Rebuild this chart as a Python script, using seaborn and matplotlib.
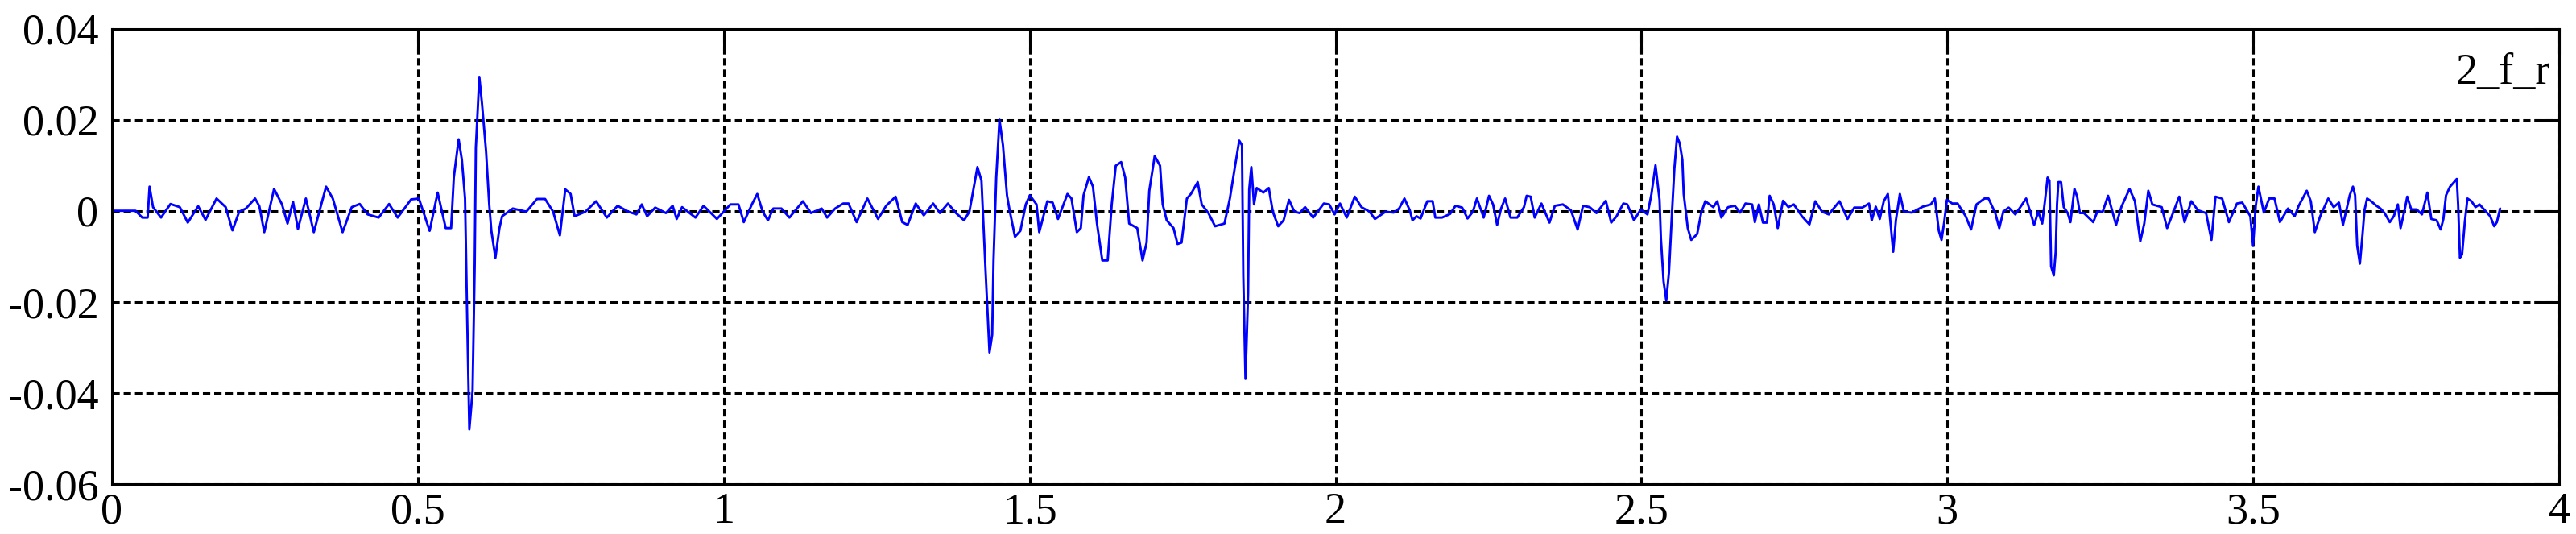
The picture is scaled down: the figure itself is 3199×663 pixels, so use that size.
import numpy as np
import pandas as pd
import matplotlib
matplotlib.use("Agg")
import matplotlib.pyplot as plt
import seaborn as sns

# ---------------- data ----------------
seg1_t = [0, 0.0386, 0.0496, 0.0584, 0.0615, 0.0672, 0.0803, 0.0957, 0.111, 0.124,
          0.141, 0.153, 0.171, 0.186, 0.197, 0.208, 0.219, 0.234, 0.241, 0.249,
          0.265, 0.278, 0.287, 0.296, 0.304, 0.317, 0.330, 0.350, 0.361, 0.377,
          0.392, 0.405, 0.418, 0.436, 0.453, 0.467, 0.489]
seg1_y = [0, 0, -0.0015, -0.0015, 0.0053, 0.0008, -0.0015, 0.0015, 0.0008, -0.0026,
          0.001, -0.002, 0.0027, 0.0008, -0.0043, -0.0002, 0.0005, 0.0027, 0.001, -0.0047,
          0.0048, 0.0014, -0.0028, 0.002, -0.004, 0.0027, -0.0047, 0.0053, 0.0027, -0.0047,
          0.0008, 0.0015, -0.0008, -0.0015, 0.0015, -0.0015, 0.0025]

seg2_t = [0.5017, 0.5193, 0.5324, 0.5456, 0.5544, 0.5588, 0.5667, 0.5720, 0.5772, 0.5807,
          0.5842, 0.5895, 0.5930, 0.5948, 0.6005, 0.6049, 0.6115, 0.6167, 0.6202, 0.6268,
          0.6334, 0.6378, 0.6553, 0.6773, 0.6948, 0.7080, 0.7212, 0.7322, 0.7410, 0.7497,
          0.7563, 0.7739, 0.7914, 0.8090, 0.8265, 0.8441, 0.8573, 0.8660, 0.8748, 0.8880,
          0.9055, 0.9165, 0.9231, 0.9319, 0.9538, 0.9670, 0.9889, 1.0109, 1.0241]
seg2_y = [0.0027, -0.0044, 0.004, -0.0038, -0.0038, 0.0073, 0.0157, 0.0112, 0.0027, -0.0239,
          -0.048, -0.0395, -0.0116, 0.0138, 0.0294, 0.0235, 0.0131, 0.0014, -0.0044, -0.0103,
          -0.0038, -0.0012, 0.0005, -0.0002, 0.0026, 0.0026, -0.0002, -0.0054, 0.0047, 0.0037,
          -0.0012, -0.0002, 0.0021, -0.0015, 0.0011, -0.0002, -0.0008, 0.0014, -0.0012, 0.0007,
          -0.0005, 0.0011, -0.0018, 0.0008, -0.0015, 0.0011, -0.0018, 0.0014, 0.0014]

seg3_t = [1.0328, 1.0460, 1.0548, 1.0636, 1.0723, 1.0811, 1.0943, 1.1074, 1.1294, 1.1426,
          1.1601, 1.1689, 1.1821, 1.1953, 1.2040, 1.2172, 1.2348, 1.2523, 1.2655, 1.2809,
          1.2918, 1.3006, 1.3138, 1.3270, 1.3423, 1.3533, 1.3665, 1.3796, 1.3928, 1.4015,
          1.4060, 1.4147, 1.4213, 1.4279, 1.4344, 1.4388, 1.4410, 1.4454, 1.4507, 1.4564,
          1.4630, 1.4673, 1.4761, 1.4849, 1.4937, 1.5003, 1.5113, 1.5157, 1.5289, 1.5376,
          1.5464]
seg3_y = [-0.0025, 0.0014, 0.0037, -0.0002, -0.0021, 0.0005, 0.0005, -0.0015, 0.0021, -0.0005,
          0.0005, -0.0015, 0.0005, 0.0016, 0.0016, -0.0025, 0.0027, -0.0018, 0.0011, 0.0031,
          -0.0025, -0.0031, 0.0016, -0.001, 0.0016, -0.0005, 0.0016, -0.0005, -0.0021, -0.0002,
          0.0031, 0.0096, 0.0066, -0.0129, -0.0311, -0.0272, -0.0109, 0.0073, 0.02, 0.0144,
          0.0034, 0.0001, -0.0057, -0.0044, 0.0014, 0.0034, 0.0014, -0.0047, 0.0021, 0.0018,
          -0.0018]

seg4_t = [1.5618, 1.5684, 1.5772, 1.5837, 1.5881, 1.5969, 1.6035, 1.6101, 1.6188, 1.6276,
          1.6342, 1.6408, 1.6496, 1.6562, 1.6627, 1.6759, 1.6846, 1.6912, 1.6956, 1.7044,
          1.7132, 1.7175, 1.7241, 1.7352, 1.7418, 1.7483, 1.7570, 1.7636, 1.7747, 1.7813,
          1.7922, 1.8031, 1.8185, 1.8273, 1.8360, 1.8426, 1.8471, 1.8492, 1.8528, 1.8571,
          1.8589, 1.8624, 1.8668, 1.8712, 1.8821, 1.8909, 1.8975, 1.9063, 1.9151, 1.9239,
          1.9327, 1.9414, 1.9502, 1.9634, 1.9809, 1.9897, 1.9985, 2.0073, 2.0183, 2.0315,
          2.0424, 2.0556, 2.0644]
seg4_y = [0.0037, 0.0027, -0.0047, -0.0038, 0.0034, 0.0074, 0.0053, -0.0028, -0.0109, -0.0109,
          0.0014, 0.0099, 0.0107, 0.0073, -0.0028, -0.0038, -0.0109, -0.007, 0.0044, 0.012,
          0.0099, 0.0014, -0.0021, -0.0038, -0.0073, -0.007, 0.0027, 0.0037, 0.0063, 0.0014,
          -0.0005, -0.0034, -0.0028, 0.0027, 0.01, 0.0154, 0.0144, -0.0142, -0.0369, -0.0181,
          0.0047, 0.0096, 0.0014, 0.005, 0.004, 0.005, -0.0002, -0.0034, -0.0021, 0.0024,
          -0.0002, -0.0005, 0.0008, -0.0015, 0.0016, 0.0014, -0.0008, 0.0016, -0.0015, 0.0031,
          0.0008, -0.0002, -0.0018]

seg5_t = [2.0819, 2.0951, 2.1039, 2.1126, 2.1214, 2.1258, 2.1324, 2.1390, 2.1500, 2.1587,
          2.1631, 2.1741, 2.1873, 2.1961, 2.2070, 2.2158, 2.2245, 2.2311, 2.2422, 2.2509,
          2.2575, 2.2641, 2.2706, 2.2772, 2.2860, 2.2970, 2.3080, 2.3124, 2.3190, 2.3255,
          2.3365, 2.3497, 2.3585, 2.3716, 2.3848, 2.3957, 2.4045, 2.4154, 2.4265, 2.4418,
          2.4506, 2.4594, 2.4704, 2.4769, 2.4879, 2.4989, 2.5099, 2.5164, 2.5230, 2.5296,
          2.5318, 2.5362, 2.5406, 2.5450, 2.5494, 2.5538, 2.5582, 2.5626, 2.5669, 2.5691,
          2.5757, 2.5814, 2.5911, 2.5977, 2.6043]
seg5_y = [-0.0002, -0.0004, 0.0005, 0.0027, 0.0001, -0.0021, -0.0012, -0.0017, 0.0021, 0.0021,
          -0.0015, -0.0015, -0.0007, 0.0011, 0.0007, -0.0017, -0.0002, 0.0027, -0.0015, 0.0033,
          0.0014, -0.0031, 0.0005, 0.0027, -0.0015, -0.0015, 0.0008, 0.0033, 0.0031, -0.0015,
          0.0016, -0.0026, 0.0011, 0.0014, 0.0001, -0.0041, 0.0011, 0.0008, -0.0005, 0.0022,
          -0.0026, -0.0012, 0.0016, 0.0014, -0.0021, 0.0003, -0.0008, 0.0037, 0.01, 0.0024,
          -0.006, -0.0155, -0.0197, -0.0135, -0.0018, 0.0092, 0.0163, 0.0148, 0.0112, 0.0037,
          -0.0038, -0.0064, -0.0051, -0.0005, 0.0021]

seg6_t = [2.6175, 2.6240, 2.6306, 2.6416, 2.6525, 2.6613, 2.6701, 2.6810, 2.6854, 2.6920,
          2.6986, 2.7052, 2.7096, 2.7162, 2.7228, 2.7315, 2.7403, 2.7491, 2.7623, 2.7746,
          2.7842, 2.7952, 2.8062, 2.8237, 2.8369, 2.8479, 2.8611, 2.8720, 2.8764, 2.8830,
          2.8895, 2.8961, 2.9027, 2.9115, 2.9159, 2.9224, 2.9290, 2.9422, 2.9598, 2.9730,
          2.9796, 2.9861, 2.9905, 2.9949, 2.9993, 3.0080, 3.0168, 3.0300, 3.0388, 3.0476,
          3.0607, 3.0673, 3.0783, 3.0849, 3.0915, 3.1002, 3.1112, 3.1222, 3.1288]
seg6_y = [0.0008, 0.0021, -0.0015, 0.0008, 0.0011, -0.0004, 0.0016, 0.0014, -0.0025, 0.0014,
          -0.0026, -0.0026, 0.0033, 0.0014, -0.0038, 0.0022, 0.0008, 0.0014, -0.0012, -0.003,
          0.0021, -0.0002, -0.0008, 0.0021, -0.0018, 0.0007, 0.0007, 0.0016, -0.0021, 0.0009,
          -0.0018, 0.0021, 0.0037, -0.009, -0.0021, 0.0037, -0.0002, -0.0004, 0.0009, 0.0014,
          0.0027, -0.0044, -0.0064, -0.0025, 0.0024, 0.0016, 0.0016, -0.0012, -0.0041, 0.0014,
          0.0027, 0.0027, -0.0005, -0.0038, -0.0002, 0.0007, -0.0008, 0.0014, 0.0027]

seg7_t = [3.1354, 3.1419, 3.1485, 3.1551, 3.1595, 3.1639, 3.1669, 3.1696, 3.1740, 3.1771,
          3.1793, 3.1815, 3.1859, 3.1903, 3.1968, 3.2012, 3.2078, 3.2122, 3.2166, 3.2232,
          3.2385, 3.2451, 3.2539, 3.2627, 3.2692, 3.2758, 3.2846, 3.2978, 3.3066, 3.3154,
          3.3219, 3.3285, 3.3351, 3.3504, 3.3592, 3.3680, 3.3790, 3.3878, 3.3987, 3.4097,
          3.4229, 3.4317, 3.4383, 3.4492, 3.4602, 3.4734, 3.4821, 3.4953, 3.4997, 3.5041,
          3.5085, 3.5173, 3.5261, 3.5348, 3.5436, 3.5568, 3.5677, 3.5743, 3.5875, 3.5941,
          3.6007, 3.6095, 3.6226, 3.6314, 3.6401]
seg7_y = [-0.0002, -0.0031, -0.0002, -0.0028, 0.0021, 0.0073, 0.0066, -0.0122, -0.0142, -0.009,
          0.0014, 0.0063, 0.0063, 0.0008, -0.0005, -0.0025, 0.0048, 0.0031, -0.0005, -0.0005,
          -0.0025, -0.0002, -0.0002, 0.0033, 0.0001, -0.0031, 0.0009, 0.0048, 0.0021, -0.0067,
          -0.0028, 0.0044, 0.0014, 0.0008, -0.0038, -0.0008, 0.0031, -0.0025, 0.0021, 0.0001,
          -0.0005, -0.0064, 0.0031, 0.0027, -0.0025, 0.0016, 0.0018, -0.0012, -0.0077, 0.0011,
          0.0053, -0.0004, 0.0027, 0.0027, -0.0025, 0.0005, -0.0012, 0.0011, 0.0044, 0.0021,
          -0.0047, -0.0012, 0.0027, 0.0008, 0.0018]

seg8_t = [3.6467, 3.6533, 3.6577, 3.6630, 3.6665, 3.6699, 3.6743, 3.6787, 3.6818, 3.6861,
          3.6927, 3.7014, 3.7080, 3.7146, 3.7232, 3.7298, 3.7364, 3.7408, 3.7473, 3.7517,
          3.7582, 3.7671, 3.7758, 3.7846, 3.7911, 3.7998, 3.8064, 3.8108, 3.8151, 3.8217,
          3.8283, 3.8327, 3.8349, 3.8379, 3.8413, 3.8458, 3.8501, 3.8567, 3.8633, 3.8698,
          3.8786, 3.8873, 3.8939, 3.8982, 3.9035]
seg8_y = [-0.0031, 0.0008, 0.0034, 0.0053, 0.0034, -0.0077, -0.0116, -0.0051, 0.0001, 0.0027,
          0.0021, 0.0011, 0.0005, -0.0005, -0.0025, -0.0012, 0.0014, -0.0038, 0.0001, 0.0031,
          0.0003, 0.0003, -0.0008, 0.004, -0.0018, -0.0021, -0.0041, -0.0018, 0.0034, 0.0053,
          0.0063, 0.007, 0.0014, -0.0103, -0.0096, -0.0025, 0.0027, 0.0021, 0.0008, 0.0014,
          0.0001, -0.0012, -0.0034, -0.0025, 0.0005]

x_ticks = [0, 0.5, 1, 1.5, 2, 2.5, 3, 3.5, 4]
x_tick_labels = ["0", "0.5", "1", "1.5", "2", "2.5", "3", "3.5", "4"]
y_ticks = [-0.06, -0.04, -0.02, 0, 0.02, 0.04]
y_tick_labels = ["-0.06", "-0.04", "-0.02", "0", "0.02", "0.04"]
label_text = "2_f_r"

# ---------------- assemble ----------------
segs_t = [seg1_t, seg2_t, seg3_t, seg4_t, seg5_t, seg6_t, seg7_t, seg8_t]
segs_y = [seg1_y, seg2_y, seg3_y, seg4_y, seg5_y, seg6_y, seg7_y, seg8_y]
for a, b in zip(segs_t, segs_y):
    assert len(a) == len(b), (len(a), len(b))
t = np.concatenate(segs_t)
v = np.concatenate(segs_y)
df = pd.DataFrame({"t": t, "v": v})

# ---------------- style ----------------
sns.set_style("white")
plt.rcParams["font.family"] = ["Liberation Serif", "DejaVu Serif"]
plt.rcParams["axes.unicode_minus"] = False

fig = plt.figure(figsize=(31.99, 6.63), dpi=100)
ax = fig.add_axes([0.04345, 0.09351, 0.9500, 0.85294])

sns.lineplot(data=df, x="t", y="v", ax=ax, color="#0000ff", linewidth=2.1,
             estimator=None, sort=False)

ax.set_xlim(0, 4)
ax.set_ylim(-0.06, 0.04)
ax.set_xticks(x_ticks)
ax.set_xticklabels(x_tick_labels)
ax.set_yticks(y_ticks)
ax.set_yticklabels(y_tick_labels)
ax.set_xlabel("")
ax.set_ylabel("")

ax.set_axisbelow(True)
ax.grid(True, color="black", linestyle=(0, (3.0, 1.6)), linewidth=2.2)

for sp in ax.spines.values():
    sp.set_color("black")
    sp.set_linewidth(2.2)

ax.tick_params(axis="both", which="both", direction="in", length=22, width=2.2,
               color="black", top=True, right=True, labelsize=39, labelcolor="black")
ax.tick_params(axis="y", pad=12)
ax.tick_params(axis="x", pad=7)

ax.text(0.9963, 0.879, label_text, transform=ax.transAxes, ha="right", va="baseline",
        fontsize=39, color="black",
        bbox=dict(facecolor="white", edgecolor="none", pad=6))

fig.savefig("out.png", dpi=100, facecolor="white")
